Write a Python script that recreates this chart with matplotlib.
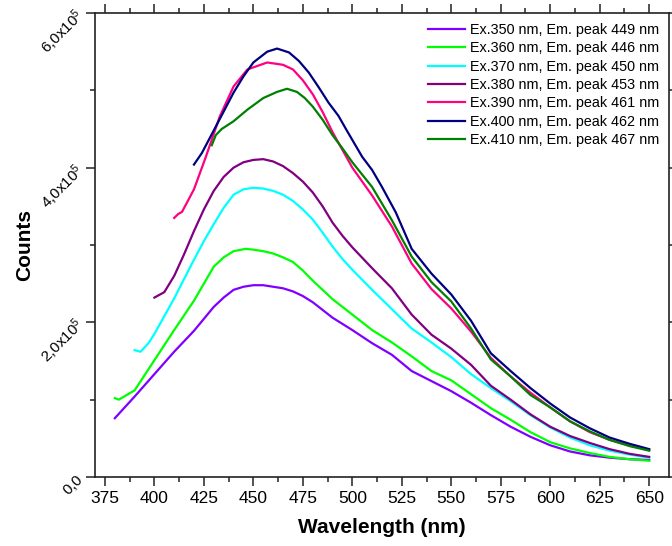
import matplotlib
matplotlib.use("Agg")
import matplotlib.pyplot as plt
import numpy as np

plt.rcParams['font.family'] = ['Liberation Sans', 'DejaVu Sans']
plt.rcParams['mathtext.fontset'] = 'custom'
plt.rcParams['mathtext.rm'] = 'Liberation Sans'

# emission spectra, counts in units of 1e5
wl_350 = [380, 390, 400, 410, 420, 430, 435, 440, 445, 450, 455, 460, 465, 470, 475, 480, 485, 490,
          500, 510, 520, 530, 540, 550, 560, 570, 580, 590, 600, 610, 620, 630, 640, 650]
cnt_350 = [0.76, 1.04, 1.33, 1.62, 1.89, 2.20, 2.32, 2.42, 2.46, 2.48, 2.48, 2.46, 2.44, 2.40, 2.34, 2.26, 2.16, 2.06,
           1.90, 1.73, 1.58, 1.37, 1.24, 1.11, 0.96, 0.80, 0.65, 0.52, 0.41, 0.33, 0.28, 0.25, 0.23, 0.22]

wl_360 = [380, 382, 390, 400, 410, 420, 425, 430, 435, 440, 446, 450, 455, 460, 465, 470, 475, 480, 485, 490,
          500, 510, 520, 530, 540, 550, 560, 570, 580, 590, 600, 610, 620, 630, 640, 650]
cnt_360 = [1.02, 1.00, 1.12, 1.51, 1.90, 2.28, 2.50, 2.72, 2.84, 2.92, 2.95, 2.94, 2.92, 2.89, 2.84, 2.78, 2.67, 2.54, 2.42, 2.30,
           2.10, 1.90, 1.74, 1.56, 1.37, 1.25, 1.07, 0.89, 0.74, 0.58, 0.45, 0.37, 0.31, 0.26, 0.23, 0.21]

wl_370 = [390, 393, 397, 400, 410, 415, 420, 425, 430, 435, 440, 445, 450, 455, 460, 465, 470, 475, 480, 485, 490, 495,
          500, 510, 520, 530, 540, 550, 560, 570, 580, 590, 600, 610, 620, 630, 640, 650]
cnt_370 = [1.64, 1.62, 1.73, 1.85, 2.31, 2.56, 2.81, 3.05, 3.27, 3.48, 3.65, 3.72, 3.74, 3.73, 3.70, 3.65, 3.57, 3.46, 3.33, 3.16, 2.98, 2.82,
           2.68, 2.42, 2.17, 1.92, 1.74, 1.55, 1.33, 1.15, 0.98, 0.80, 0.64, 0.51, 0.41, 0.34, 0.29, 0.25]

wl_380 = [400, 405, 410, 415, 420, 425, 430, 435, 440, 445, 450, 455, 460, 465, 470, 475, 480, 485, 490, 495,
          500, 510, 520, 530, 540, 550, 560, 570, 580, 590, 600, 610, 620, 630, 640, 650]
cnt_380 = [2.32, 2.39, 2.60, 2.88, 3.18, 3.46, 3.70, 3.88, 4.00, 4.07, 4.10, 4.11, 4.08, 4.02, 3.93, 3.82, 3.68, 3.50, 3.29, 3.12,
           2.97, 2.70, 2.44, 2.10, 1.84, 1.66, 1.45, 1.18, 1.00, 0.81, 0.65, 0.53, 0.44, 0.36, 0.30, 0.26]

wl_390 = [410, 412, 414, 420, 426, 433, 440, 447, 457, 465, 470, 475, 480, 485, 490, 495, 500, 510, 520,
          530, 540, 550, 560, 570, 580, 590, 600, 610, 620, 630, 640, 650]
cnt_390 = [3.35, 3.40, 3.43, 3.72, 4.14, 4.66, 5.05, 5.27, 5.36, 5.33, 5.27, 5.13, 4.95, 4.72, 4.46, 4.23, 4.00, 3.64, 3.24,
           2.76, 2.43, 2.18, 1.88, 1.54, 1.30, 1.09, 0.90, 0.72, 0.58, 0.48, 0.41, 0.35]

wl_400 = [420, 424, 431, 440, 445, 450, 457, 462, 468, 473, 478, 483, 488, 493, 497, 505, 510, 515, 522,
          530, 540, 550, 560, 570, 580, 590, 600, 610, 620, 630, 640, 650]
cnt_400 = [4.04, 4.19, 4.53, 4.97, 5.18, 5.36, 5.50, 5.54, 5.49, 5.38, 5.23, 5.04, 4.84, 4.67, 4.49, 4.14, 3.97, 3.75, 3.42,
           2.95, 2.63, 2.36, 2.02, 1.60, 1.37, 1.15, 0.95, 0.77, 0.63, 0.51, 0.43, 0.36]

wl_410 = [429, 431, 434, 440, 447, 455, 462, 467, 472, 476, 480, 485, 490, 495, 500, 510, 520,
          530, 540, 550, 560, 570, 580, 590, 600, 610, 620, 630, 640, 650]
cnt_410 = [4.29, 4.42, 4.50, 4.60, 4.75, 4.90, 4.98, 5.02, 4.98, 4.90, 4.79, 4.62, 4.42, 4.25, 4.07, 3.75, 3.32,
           2.85, 2.52, 2.27, 1.92, 1.52, 1.30, 1.06, 0.90, 0.72, 0.59, 0.48, 0.40, 0.34]

labels = ["Ex.350 nm, Em. peak 449 nm", "Ex.360 nm, Em. peak 446 nm",
          "Ex.370 nm, Em. peak 450 nm", "Ex.380 nm, Em. peak 453 nm",
          "Ex.390 nm, Em. peak 461 nm", "Ex.400 nm, Em. peak 462 nm",
          "Ex.410 nm, Em. peak 467 nm"]
colors = ["#8000FF", "#00FF00", "#00FFFF", "#800080", "#FF0080", "#000080", "#008000"]

series = [(wl_350, cnt_350), (wl_360, cnt_360), (wl_370, cnt_370), (wl_380, cnt_380),
          (wl_390, cnt_390), (wl_400, cnt_400), (wl_410, cnt_410)]

fig = plt.figure(figsize=(6.72, 5.46), dpi=100)
ax = fig.add_axes([0.1414, 0.1264, 0.8541, 0.8498])

for (wl, cnt), lab, col in zip(series, labels, colors):
    ax.plot(wl, cnt, color=col, lw=1.6, label=lab, solid_joinstyle='round')

ax.set_xlim(370, 660)
ax.set_ylim(0, 6)
ax.set_xticks(np.arange(375, 651, 25))
ax.set_xticks(np.arange(387.5, 660, 25), minor=True)
ax.set_yticks([0, 2, 4, 6])
ax.set_yticks([1, 3, 5], minor=True)
ax.set_yticklabels([r'$\mathregular{0{,}0}$', r'$\mathregular{2{,}0x10^5}$',
                    r'$\mathregular{4{,}0x10^5}$', r'$\mathregular{6{,}0x10^5}$'])
for t in ax.get_yticklabels():
    t.set_rotation(45)
    t.set_rotation_mode('anchor')
    t.set_ha('right')
    t.set_va('center')

ax.tick_params(which='both', direction='out', top=True, right=True, width=1.1,
               color='#222222')
ax.tick_params(axis='x', labelsize=12.5)
ax.tick_params(axis='y', labelsize=11)
ax.tick_params(which='major', length=6.5)
ax.tick_params(which='minor', length=3.5)
for s in ax.spines.values():
    s.set_linewidth(1.2)
    s.set_color('#222222')

ax.set_xlabel("Wavelength (nm)", fontsize=15, fontweight='bold', labelpad=9)
ax.set_ylabel("Counts", fontsize=15, fontweight='bold')
ax.yaxis.set_label_coords(-0.106, 0.5)

ax.legend(loc='upper right', frameon=False, fontsize=10.4, handlelength=2.6,
          labelspacing=0.3, handletextpad=0.3, borderaxespad=0.3)

fig.savefig("out.png", dpi=100)
